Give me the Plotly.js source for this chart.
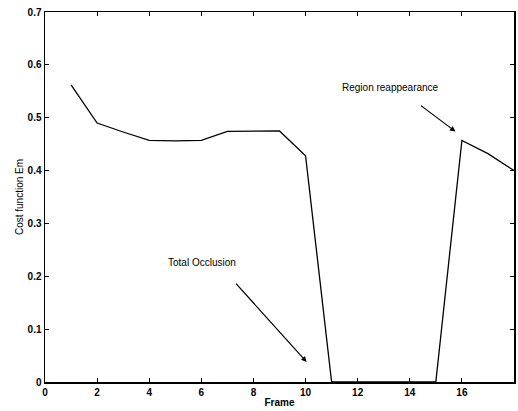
<!DOCTYPE html>
<html>
<head>
<meta charset="utf-8">
<script src="https://cdn.plot.ly/plotly-3.0.1.min.js"></script>
<style>html,body{margin:0;padding:0;background:#fff;}#chart{width:518px;height:411px;}</style>
</head>
<body>
<div id="chart"></div>
<script>
const frames = [1,2,3,4,5,6,7,8,9,10,11,12,13,14,15,16,17,18];
const costEm = [0.562,0.490,0.473,0.457,0.456,0.457,0.474,0.474,0.475,0.428,0,0,0,0,0,0.457,0.432,0.400];
const xTicks = [0,2,4,6,8,10,12,14,16,18];
const yTicks = [0,0.1,0.2,0.3,0.4,0.5,0.6,0.7];
const yTickText = ['0','0.1','0.2','0.3','0.4','0.5','0.6','0.7'];
const labels = ['Total Occlusion','Region reappearance'];

const font = {family:'Liberation Sans, Arial, sans-serif', size:10, color:'#000'};
const axisCommon = {
  showgrid:false, zeroline:false, showline:true, linecolor:'#000', linewidth:1.5,
  mirror:'ticks', ticks:'inside', ticklen:4, tickcolor:'#000', tickwidth:1,
  tickfont:{family:'Liberation Sans, Arial, sans-serif', size:10, color:'#000', weight:'bold'}
};
const trace = {x:frames, y:costEm, mode:'lines', line:{color:'#000', width:1.3}, hoverinfo:'skip'};
const layout = {
  width:518, height:411,
  margin:{l:45, r:4, t:12, b:29},
  paper_bgcolor:'#fff', plot_bgcolor:'#fff',
  showlegend:false,
  font:font,
  xaxis:Object.assign({}, axisCommon, {range:[0,18], tickvals:xTicks, ticktext:xTicks.map(String),
    title:{text:'Frame', standoff:2, font:{family:'Liberation Sans, Arial, sans-serif', size:10, color:'#000', weight:'bold'}}}),
  yaxis:Object.assign({}, axisCommon, {range:[0,0.7], tickvals:yTicks, ticktext:yTickText,
    title:{text:'Cost function Em', standoff:2, font:{family:'Liberation Sans, Arial, sans-serif', size:10, color:'#000'}}}),
  annotations:[
    {x:6.01, y:0.226, xref:'x', yref:'y', text:labels[0], showarrow:false, font:{family:'Liberation Sans, Arial, sans-serif', size:10, color:'#000'}},
    {x:10.04, y:0.038, xref:'x', yref:'y', ax:7.28, ay:0.189, axref:'x', ayref:'y', text:'', showarrow:true, arrowhead:2, arrowsize:0.9, arrowwidth:1.2, arrowcolor:'#000'},
    {x:13.26, y:0.557, xref:'x', yref:'y', text:labels[1], showarrow:false, font:{family:'Liberation Sans, Arial, sans-serif', size:10, color:'#000'}},
    {x:15.75, y:0.474, xref:'x', yref:'y', ax:14.37, ay:0.525, axref:'x', ayref:'y', text:'', showarrow:true, arrowhead:2, arrowsize:0.9, arrowwidth:1.2, arrowcolor:'#000'}
  ]
};
Plotly.newPlot('chart', [trace], layout, {staticPlot:true, displayModeBar:false});
</script>
</body>
</html>
